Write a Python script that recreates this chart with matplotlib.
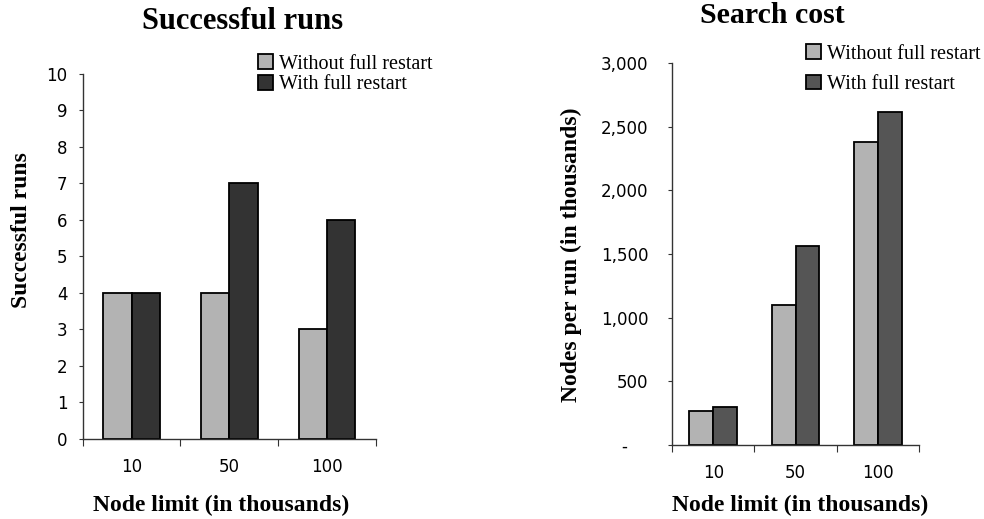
import matplotlib
matplotlib.use("Agg")
import matplotlib.pyplot as plt
import numpy as np

# data
node_limits = ["10", "50", "100"]
series_names = ["Without full restart", "With full restart"]
success_without = [4, 4, 3]
success_with = [4, 7, 6]
cost_without = [270, 1100, 2380]
cost_with = [300, 1565, 2615]
success_ticks = list(range(0, 11))
cost_ticks = [0, 500, 1000, 1500, 2000, 2500, 3000]

SERIF = "Liberation Serif"
SANS = "DejaVu Sans"

fig = plt.figure(figsize=(9.84, 5.19), dpi=100)

ax1 = fig.add_axes([0.084, 0.1547, 0.298, 0.7027])
ax2 = fig.add_axes([0.683, 0.1426, 0.251, 0.736])

x = np.arange(len(node_limits))
w = 0.29
edge_lw = 1.3


def style_axes(ax, ylabel_pad):
    for s in ["top", "right"]:
        ax.spines[s].set_visible(False)
    for s in ["left", "bottom"]:
        ax.spines[s].set_color("#333333")
        ax.spines[s].set_linewidth(1.0)
    ax.set_xlim(-0.5, len(node_limits) - 0.5)
    # tick marks at category boundaries, labels at centers
    ax.set_xticks(np.arange(-0.5, len(node_limits)), labels=[""] * (len(node_limits) + 1))
    ax.set_xticks(x, labels=node_limits, minor=True)
    ax.tick_params(axis="x", which="major", direction="out", length=5, color="#333333")
    ax.tick_params(axis="x", which="minor", length=0, pad=14, labelsize=12)
    ax.tick_params(axis="y", direction="out", length=3, color="#333333", pad=ylabel_pad, labelsize=12)
    for lab in ax.get_xticklabels(minor=True) + ax.get_yticklabels():
        lab.set_fontfamily(SANS)


# left chart: successful runs
b1 = ax1.bar(x - w / 2, success_without, w, color="#B3B3B3", edgecolor="black", linewidth=edge_lw, label=series_names[0])
b2 = ax1.bar(x + w / 2, success_with, w, color="#333333", edgecolor="black", linewidth=edge_lw, label=series_names[1])
ax1.set_ylim(0, 10)
ax1.set_yticks(success_ticks)
style_axes(ax1, 8)

# right chart: search cost
c1 = ax2.bar(x - w / 2, cost_without, w, color="#B3B3B3", edgecolor="black", linewidth=edge_lw, label=series_names[0])
c2 = ax2.bar(x + w / 2, cost_with, w, color="#555555", edgecolor="black", linewidth=edge_lw, label=series_names[1])
ax2.set_ylim(0, 3000)
ax2.set_yticks(cost_ticks, labels=["-    " if v == 0 else f"{v:,}" for v in cost_ticks])
style_axes(ax2, 14)

# titles and axis labels
fig.text(0.246, 0.958, "Successful runs", ha="center", va="center", fontsize=22, fontweight="bold", family=SERIF)
fig.text(0.785, 0.971, "Search cost", ha="center", va="center", fontsize=21.5, fontweight="bold", family=SERIF)
fig.text(0.022, 0.557, "Successful runs", ha="center", va="center", rotation=90, fontsize=17, fontweight="bold", family=SERIF)
fig.text(0.581, 0.509, "Nodes per run (in thousands)", ha="center", va="center", rotation=90, fontsize=17, fontweight="bold", family=SERIF)
fig.text(0.225, 0.027, "Node limit (in thousands)", ha="center", va="center", fontsize=17, fontweight="bold", family=SERIF)
fig.text(0.813, 0.027, "Node limit (in thousands)", ha="center", va="center", fontsize=17, fontweight="bold", family=SERIF)

# legends
fig.legend(handles=[b1, b2], loc="upper left", bbox_to_anchor=(0.262, 0.895), frameon=False,
           prop={"family": SERIF, "size": 14.5}, handlelength=0.75, handleheight=0.75,
           handletextpad=0.3, labelspacing=0.05, borderpad=0, borderaxespad=0)
fig.legend(handles=[c1, c2], loc="upper left", bbox_to_anchor=(0.819, 0.915), frameon=False,
           prop={"family": SERIF, "size": 14.5}, handlelength=0.75, handleheight=0.75,
           handletextpad=0.3, labelspacing=0.55, borderpad=0, borderaxespad=0)

fig.savefig("out.png", dpi=100)
